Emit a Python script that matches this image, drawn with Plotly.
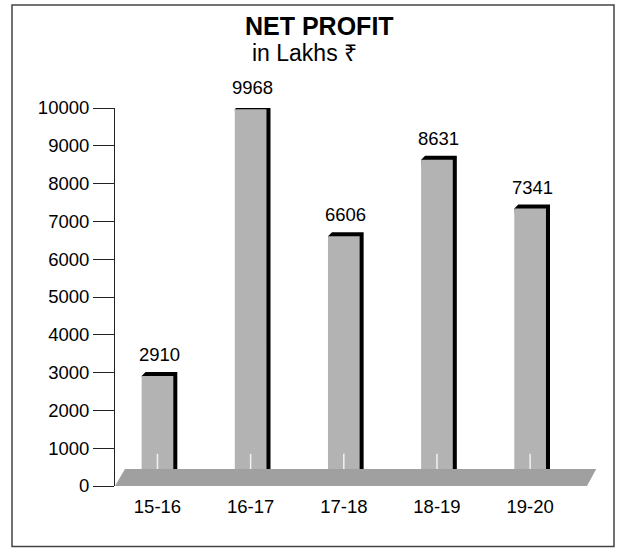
import plotly.graph_objs as go

# data
categories = ["15-16", "16-17", "17-18", "18-19", "19-20"]
net_profit = [2910, 9968, 6606, 8631, 7341]
y_ticks = list(range(0, 10001, 1000))
y_tick_labels = [str(t) for t in y_ticks]

title_text = "<b>NET PROFIT</b>"
subtitle_text = "in Lakhs ₹"

# look
W, H = 622, 548
ML, MR, MT, MB = 115, 22, 108, 62
BAR_W = 0.34
DX, DY = 0.043, 106        # black extrusion offset (data units)
FLOOR_H = 450
BAR_GRAY = "#b3b3b3"
FLOOR_GRAY = "#a0a0a0"
FONT = "Liberation Sans, Arial, sans-serif"

x_idx = list(range(len(categories)))


def py(px):
    # pixel row -> paper y
    return (H - px - MB) / (H - MT - MB)


def pxx(px):
    # pixel col -> paper x
    return (px - ML) / (W - ML - MR)


fig = go.Figure()
fig.add_trace(go.Bar(
    x=x_idx, y=net_profit, width=BAR_W,
    marker=dict(color=BAR_GRAY, line=dict(width=0)),
    hoverinfo="skip", showlegend=False,
))

shapes = []
# black top/right edge behind each bar
for i, v in zip(x_idx, net_profit):
    xl, xr = i - BAR_W / 2, i + BAR_W / 2
    path = (f"M {xl},{v} L {xl + DX},{v + DY} L {xr + DX},{v + DY} "
            f"L {xr + DX},0 L {xr},0 Z")
    shapes.append(dict(type="path", xref="x", yref="y", path=path,
                       fillcolor="black", line=dict(width=0), layer="below"))
    # little white tick in the bar just above the floor
    shapes.append(dict(type="line", xref="x", yref="y", x0=i, x1=i,
                       y0=FLOOR_H, y1=FLOOR_H + 400,
                       line=dict(color="#f2f2f2", width=1.5), layer="above"))

# floor slab
shapes.append(dict(type="path", xref="x", yref="y",
                   path=f"M -0.456,0 L -0.349,{FLOOR_H} L 4.71,{FLOOR_H} L 4.61,0 Z",
                   fillcolor=FLOOR_GRAY, line=dict(width=0), layer="above"))

# outer frame
shapes.append(dict(type="rect", xref="paper", yref="paper",
                   x0=pxx(12), x1=pxx(614), y0=py(546.5), y1=py(5),
                   line=dict(color="#444444", width=1.5), layer="below"))

annotations = []
for i, v in zip(x_idx, net_profit):
    annotations.append(dict(x=i + DX / 2, y=v, xref="x", yref="y",
                            text=str(v), showarrow=False, yanchor="bottom",
                            yshift=9, font=dict(size=18.5, color="black")))

annotations.append(dict(x=pxx(319), y=py(26), xref="paper", yref="paper",
                        text=title_text, showarrow=False, xanchor="center",
                        yanchor="middle", font=dict(size=25, color="black")))
annotations.append(dict(x=pxx(304), y=py(53), xref="paper", yref="paper",
                        text=subtitle_text, showarrow=False, xanchor="center",
                        yanchor="middle", font=dict(size=23, color="black")))

fig.update_layout(
    width=W, height=H,
    margin=dict(l=ML, r=MR, t=MT, b=MB, pad=0),
    paper_bgcolor="white", plot_bgcolor="white",
    font=dict(family=FONT, color="black", size=18.5),
    barmode="overlay",
    shapes=shapes,
    annotations=annotations,
    xaxis=dict(range=[-0.456, 4.75], tickvals=x_idx, ticktext=categories,
               showgrid=False, zeroline=False, showline=False, ticks="",
               ticklabelstandoff=7, tickfont=dict(size=18.5), fixedrange=True),
    yaxis=dict(range=[0, 10000], tickvals=y_ticks, ticktext=y_tick_labels,
               showgrid=False, zeroline=False, showline=True,
               linecolor="#222222", linewidth=1,
               ticks="outside", ticklen=21, tickcolor="#222222", tickwidth=1,
               tickfont=dict(size=18.5), fixedrange=True),
)

# drop the default body margin so the figure sits at the page corner
fig.write_html("out.html", config={"displayModeBar": False},
               post_script="document.body.style.margin='0';")
